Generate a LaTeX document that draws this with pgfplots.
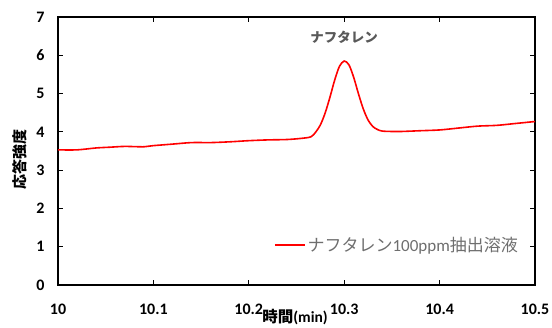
\documentclass[border=0pt]{standalone}
\usepackage{fontspec}
\setmainfont{Carlito}
\newfontfamily\jp{Noto Sans CJK JP}
\usepackage{pgfplots}
\pgfplotsset{compat=1.18}
\definecolor{txtgray}{RGB}{89,89,89}
\definecolor{leggray}{RGB}{110,110,110}
\begin{document}
\begin{tikzpicture}
\path[use as bounding box] (-58pt,-42pt) rectangle (494pt,285pt);
\begin{axis}[
  at={(0,0)}, anchor=south west,
  scale only axis, width=477pt, height=268pt,
  xmin=10, xmax=10.5, ymin=0, ymax=7,
  xtick={10,10.1,10.2,10.3,10.4,10.5},
  ytick={0,1,2,3,4,5,6,7},
  xticklabels={10,10.1,10.2,10.3,10.4,10.5},
  tick align=inside, major tick length=5pt,
  tick style={black, line width=0.8pt},
  axis line style={black, line width=1.3pt},
  /pgf/number format/assume math mode=true,
  tick label style={font=\bfseries\fontsize{16}{16}\selectfont},
  yticklabel style={xshift=-10pt},
  xticklabel style={yshift=-15pt},
  xlabel={{\jp\bfseries 時間}(min)},
  ylabel={\jp\bfseries 応答強度},
  xlabel style={at={(axis description cs:0.497,-0.121)}, anchor=center, font=\bfseries\fontsize{15.5}{15.5}\selectfont},
  ylabel style={at={(axis description cs:-0.08,0.47)}, anchor=center, font=\bfseries\fontsize{15}{15}\selectfont},
  legend style={draw=none, fill=none, at={(axis description cs:0.975,0.149)}, anchor=east,
    font=\fontsize{17}{17}\selectfont, text=leggray},
  legend cell align=left,
  legend image code/.code={\draw[#1, line width=1.6pt] (0pt,0pt) -- (30pt,0pt);},
  clip=false,
]
\addplot[red, line width=1.6pt, smooth, tension=0.5] coordinates {
(10.00,3.53) (10.02,3.53) (10.04,3.58) (10.055,3.60) (10.07,3.62) (10.09,3.61)
(10.10,3.64) (10.12,3.68) (10.14,3.72) (10.16,3.72) (10.18,3.74) (10.20,3.77)
(10.22,3.79) (10.24,3.80) (10.255,3.83) (10.265,3.87) (10.27,3.99) (10.275,4.18)
(10.28,4.49) (10.285,4.90) (10.29,5.35) (10.295,5.71) (10.30,5.85) (10.305,5.75)
(10.31,5.42) (10.315,4.99) (10.32,4.60) (10.325,4.31) (10.33,4.14) (10.335,4.06)
(10.34,4.02) (10.35,4.01) (10.36,4.01) (10.38,4.03) (10.40,4.05) (10.42,4.10) (10.44,4.15)
(10.46,4.17) (10.48,4.22) (10.50,4.27)
};
\addlegendentry{{\jp ナフタレン}100ppm{\jp 抽出溶液}}
\node[text=txtgray, font=\jp\bfseries\fontsize{13.5}{13.5}\selectfont] at (axis cs:10.3,6.48) {ナフタレン};
\end{axis}
\end{tikzpicture}
\end{document}
